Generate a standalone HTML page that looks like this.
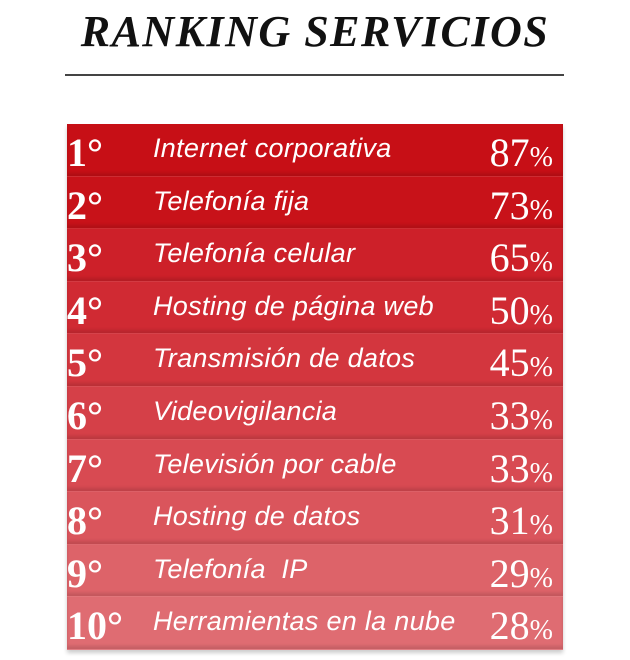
<!DOCTYPE html>
<html><head><meta charset="utf-8"><style>
body{margin:0;width:630px;height:660px;background:#fff;position:relative;overflow:hidden;font-family:"Liberation Serif",serif}
.t{position:absolute;top:6px;left:0;width:630px;text-align:center;font:italic bold 44px "Liberation Serif",serif;color:#111;letter-spacing:1.5px}
.hr{position:absolute;top:74px;left:65px;width:499px;height:2px;background:#444}
.tbl{position:absolute;left:67px;top:124px;width:496px;box-shadow:0 3px 4px rgba(0,0,0,.2)}
.r{position:relative;box-sizing:border-box;height:52.6px;border-bottom:1px solid rgba(255,255,255,.12);box-shadow:inset 0 -3px 3px rgba(0,0,0,.12);color:#fff}
.n{position:absolute;left:0;top:5px;font:bold 40px "Liberation Serif",serif}
.l{position:absolute;left:86px;top:9px;font:italic 27px "Liberation Sans",sans-serif;letter-spacing:0.3px}
.p{position:absolute;right:10px;top:5px;font:40px "Liberation Serif",serif}
.p small{font-size:28px}
</style></head><body>
<div class="t">RANKING SERVICIOS</div>
<div class="hr"></div>
<div class="tbl">
<div class="r" style="background:#c70f16"><span class="n">1°</span><span class="l">Internet corporativa</span><span class="p">87<small>%</small></span></div>
<div class="r" style="background:#c81219"><span class="n">2°</span><span class="l">Telefonía fija</span><span class="p">73<small>%</small></span></div>
<div class="r" style="background:#cd2029"><span class="n">3°</span><span class="l">Telefonía celular</span><span class="p">65<small>%</small></span></div>
<div class="r" style="background:#d02a33"><span class="n">4°</span><span class="l">Hosting de página web</span><span class="p">50<small>%</small></span></div>
<div class="r" style="background:#d3363e"><span class="n">5°</span><span class="l">Transmisión de datos</span><span class="p">45<small>%</small></span></div>
<div class="r" style="background:#d54048"><span class="n">6°</span><span class="l">Videovigilancia</span><span class="p">33<small>%</small></span></div>
<div class="r" style="background:#d84a52"><span class="n">7°</span><span class="l">Televisión por cable</span><span class="p">33<small>%</small></span></div>
<div class="r" style="background:#da555c"><span class="n">8°</span><span class="l">Hosting de datos</span><span class="p">31<small>%</small></span></div>
<div class="r" style="background:#dd6369"><span class="n">9°</span><span class="l">Telefonía&nbsp; IP</span><span class="p">29<small>%</small></span></div>
<div class="r" style="background:#df6c72"><span class="n">10°</span><span class="l">Herramientas en la nube</span><span class="p">28<small>%</small></span></div>
</div>
</body></html>
